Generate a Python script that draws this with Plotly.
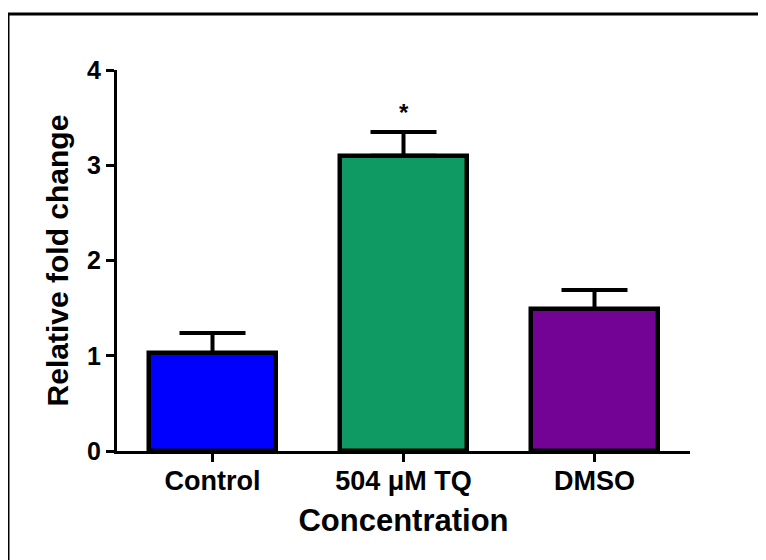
import plotly.graph_objects as go

categories = ["Control", "504 μM TQ", "DMSO"]
values = [1.03, 3.10, 1.49]
errors = [0.21, 0.25, 0.20]
colors = ["#0000FF", "#0F9963", "#730394"]
y_ticks = [0, 1, 2, 3, 4]
sig_labels = ["", "*", ""]

W, H = 766, 560
OFF = 8  # page body offset
L, R, T, B = 109, 84, 62, 117
pw, ph = W - L - R, H - T - B

font_family = "Liberation Sans, Arial, sans-serif"

fig = go.Figure()
fig.add_trace(go.Bar(
    x=list(range(len(categories))),
    y=values,
    width=0.665,
    marker=dict(color=colors, line=dict(color="black", width=4.5)),
    error_y=dict(type="data", array=errors, arrayminus=[0] * len(errors),
                 symmetric=False, color="black", thickness=4, width=33),
    showlegend=False,
))

for i, (lab, v, e) in enumerate(zip(sig_labels, values, errors)):
    if lab:
        fig.add_annotation(x=i, y=v + e, text=lab, showarrow=False, yshift=19,
                           font=dict(family=font_family, size=24, color="black", weight="bold"))

def sx(p):
    return (p - OFF - L) / pw

def sy(p):
    return (OFF + H - B - p) / ph

# outer frame (left and top edges visible)
fig.add_shape(type="rect", xref="paper", yref="paper",
              x0=sx(8), x1=sx(800), y0=sy(600), y1=sy(14),
              line=dict(color="black", width=3), fillcolor="rgba(0,0,0,0)", layer="below")

fig.update_layout(
    width=W, height=H,
    margin=dict(l=L, r=R, t=T, b=B),
    paper_bgcolor="white", plot_bgcolor="white",
    bargap=0,
    xaxis=dict(
        range=[-0.5, 2.5],
        tickvals=list(range(len(categories))), ticktext=categories,
        showline=True, linecolor="black", linewidth=3,
        ticks="outside", ticklen=8, tickwidth=3, tickcolor="black",
        ticklabelstandoff=-4,
        showgrid=False, zeroline=False,
        tickfont=dict(family=font_family, size=27, color="black", weight="bold"),
        title=dict(text="Concentration", standoff=14,
                   font=dict(family=font_family, size=31, color="black", weight="bold")),
    ),
    yaxis=dict(
        range=[0, 4], tickvals=y_ticks,
        showline=True, linecolor="black", linewidth=3,
        ticks="outside", ticklen=8, tickwidth=3, tickcolor="black",
        showgrid=False, zeroline=False,
        tickfont=dict(family=font_family, size=25, color="black", weight="bold"),
        title=dict(text="Relative fold change", standoff=10,
                   font=dict(family=font_family, size=30, color="black", weight="bold")),
    ),
)

fig.write_html("out.html")
